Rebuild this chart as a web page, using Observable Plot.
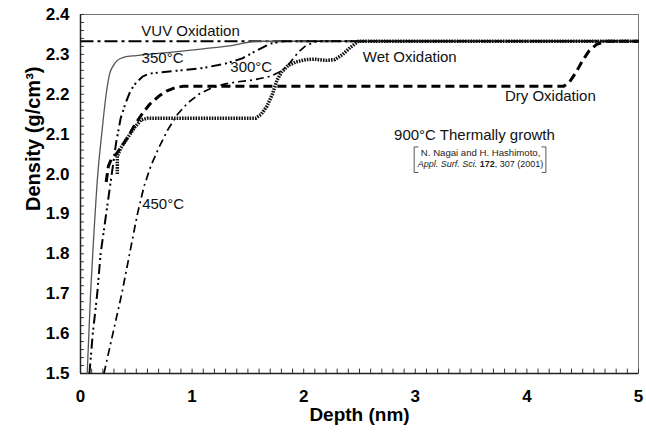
<!DOCTYPE html>
<html><head><meta charset="utf-8">
<script src="https://cdn.jsdelivr.net/npm/d3@7"></script>
<script src="https://cdn.jsdelivr.net/npm/@observablehq/plot@0.6"></script>
<style>body{margin:0;background:#fff} svg{display:block}</style>
</head><body><div id="chart"></div>
<script>
// ---- data (depth nm, density g/cm3) ----
const vuvX = [0, 5];
const vuvY = [2.333, 2.333];

const solidX = [0.06, 0.09, 0.12, 0.155, 0.19, 0.23, 0.26, 0.29, 0.33, 0.39, 0.5, 0.8, 1.1, 1.35, 1.58, 5];
const solidY = [1.5, 1.7, 1.85, 2.0, 2.1, 2.2, 2.25, 2.27, 2.285, 2.293, 2.297, 2.305, 2.314, 2.322, 2.333, 2.333];

const c350X = [0.08, 0.11, 0.15, 0.18, 0.22, 0.25, 0.29, 0.32, 0.36, 0.40, 0.45, 0.50, 0.56, 0.62, 0.75, 0.9, 1.1, 1.3, 1.45, 1.58, 1.7, 1.82, 5];
const c350Y = [1.5, 1.6, 1.7, 1.8, 1.88, 1.94, 2.02, 2.08, 2.14, 2.175, 2.21, 2.23, 2.245, 2.252, 2.256, 2.26, 2.266, 2.277, 2.29, 2.31, 2.327, 2.333, 2.333];

const c450X = [0.21, 0.29, 0.37, 0.44, 0.51, 0.57, 0.63, 0.7, 0.78, 0.87, 0.96, 1.06, 1.16, 1.28, 1.4, 1.55, 1.7, 1.8, 1.88, 1.95, 2.02, 2.12, 5];
const c450Y = [1.5, 1.6, 1.7, 1.8, 1.9, 1.97, 2.02, 2.065, 2.11, 2.15, 2.178, 2.2, 2.214, 2.225, 2.231, 2.236, 2.245, 2.258, 2.28, 2.305, 2.322, 2.333, 2.333];

const dryX = [0.23, 0.25, 0.28, 0.32, 0.37, 0.43, 0.49, 0.55, 0.62, 0.7, 0.77, 0.85, 0.92, 4.33, 4.38, 4.44, 4.5, 4.56, 4.63, 4.72, 5];
const dryY = [1.98, 2.02, 2.04, 2.05, 2.07, 2.095, 2.125, 2.15, 2.175, 2.195, 2.208, 2.217, 2.22, 2.22, 2.23, 2.255, 2.285, 2.31, 2.326, 2.333, 2.333];

const wetX = [0.33, 0.33, 0.36, 0.42, 0.48, 0.54, 0.6, 1.57, 1.62, 1.67, 1.72, 1.76, 1.8, 1.86, 1.93, 2.02, 2.1, 2.2, 2.28, 2.35, 2.42, 2.49, 5];
const wetY = [2.0, 2.045, 2.065, 2.09, 2.115, 2.135, 2.14, 2.14, 2.15, 2.17, 2.2, 2.235, 2.255, 2.272, 2.281, 2.287, 2.288, 2.285, 2.287, 2.3, 2.318, 2.333, 2.333];

// ---- ticks ----
const xTicks = [0, 1, 2, 3, 4, 5];
const yTicks = [1.5, 1.6, 1.7, 1.8, 1.9, 2.0, 2.1, 2.2, 2.3, 2.4];
const xMinor = d3.range(0, 5.001, 0.1);
const yMinor = d3.range(1.5, 2.401, 0.02);

// ---- annotations ----
const annoText = ["VUV Oxidation", "350°C", "300°C", "450°C", "Wet Oxidation", "Dry Oxidation", "900°C Thermally growth"];
const annoX = [0.986, 0.735, 1.53, 0.74, 2.95, 4.21, 3.53];
const annoY = [2.357, 2.29, 2.267, 1.924, 2.292, 2.194, 2.097];
const citeText = ["N. Nagai and H. Hashimoto,", "Appl. Surf. Sci. 172, 307 (2001)"];
const citeX = [3.585, 3.585];
const citeY = [2.054, 2.024];
const bracketL = {x: [3.025, 2.99, 2.99, 3.025], y: [2.068, 2.068, 2.004, 2.004]};
const bracketR = {x: [4.135, 4.17, 4.17, 4.135], y: [2.068, 2.068, 2.004, 2.004]};

const toRows = (xs, ys) => xs.map((x, i) => ({x, y: ys[i]}));
const anno = annoText.map((t, i) => ({t, x: annoX[i], y: annoY[i]}));

const plot = Plot.plot({
  width: 646, height: 437,
  marginLeft: 80, marginRight: 8, marginTop: 14, marginBottom: 64,
  style: {fontFamily: "'Liberation Sans', Arial, sans-serif", background: "#fff", color: "#000"},
  x: {domain: [0, 5]},
  y: {domain: [1.5, 2.4]},
  marks: [
    Plot.frame({stroke: "#777", strokeWidth: 1}),
    Plot.ruleX(xMinor, {y1: 1.5, y2: 1.511, stroke: "#333", strokeWidth: 1}),
    Plot.ruleY(yMinor, {x1: 0, x2: 0.035, stroke: "#333", strokeWidth: 1}),
    Plot.ruleX([0], {stroke: "#222", strokeWidth: 1.5}),
    Plot.ruleY([1.5], {stroke: "#222", strokeWidth: 1.5}),
    Plot.line(toRows(vuvX, vuvY), {x: "x", y: "y", stroke: "#000", strokeWidth: 2.2, strokeDasharray: "13,4,3,4", strokeLinecap: "butt"}),
    Plot.line(toRows(solidX, solidY), {x: "x", y: "y", stroke: "#555", strokeWidth: 1.3, curve: "monotone-x"}),
    Plot.line(toRows(c350X, c350Y), {x: "x", y: "y", stroke: "#000", strokeWidth: 2, strokeDasharray: "10,4,2,3,2,4", strokeLinecap: "butt"}),
    Plot.line(toRows(c450X, c450Y), {x: "x", y: "y", stroke: "#000", strokeWidth: 1.7, strokeDasharray: "8,4,2,4", strokeLinecap: "butt"}),
    Plot.line(toRows(dryX, dryY), {x: "x", y: "y", stroke: "#000", strokeWidth: 3, strokeDasharray: "9,5", strokeLinecap: "butt"}),
    Plot.line(toRows(wetX, wetY), {x: "x", y: "y", stroke: "#111", strokeWidth: 3.5, strokeDasharray: "1.6,1.1", strokeLinecap: "butt"}),
    Plot.text(anno, {x: "x", y: "y", text: "t", fontSize: 15, fill: "#111"}),
    Plot.text([citeText[0]], {x: citeX[0], y: citeY[0], fontSize: 9.6, fill: "#222"}),
    Plot.text([citeText[1]], {x: citeX[1], y: citeY[1], fontSize: 9, fill: "#222"}),
    Plot.line(toRows(bracketL.x, bracketL.y), {x: "x", y: "y", stroke: "#444", strokeWidth: 0.9}),
    Plot.line(toRows(bracketR.x, bracketR.y), {x: "x", y: "y", stroke: "#444", strokeWidth: 0.9}),
    Plot.axisX(xTicks, {tickSize: 0, tickPadding: 16, fontSize: 17, fontWeight: "bold", label: null}),
    Plot.axisY(yTicks, {tickSize: 0, tickPadding: 11, fontSize: 17, fontWeight: "bold", tickFormat: d3.format(".1f"), label: null}),
    Plot.text(["Depth (nm)"], {frameAnchor: "bottom", dy: 47, fontSize: 19, fontWeight: "bold"}),
    Plot.text(["Density (g/cm³)"], {frameAnchor: "left", dx: -47, dy: 17, rotate: -90, fontSize: 20, fontWeight: "bold"})
  ]
});

d3.select(plot).selectAll("text").filter(function () { return this.textContent === citeText[1]; })
  .each(function () {
    const t = d3.select(this);
    t.text(null);
    t.append("tspan").attr("font-style", "italic").text("Appl. Surf. Sci. ");
    t.append("tspan").attr("font-weight", "bold").text("172");
    t.append("tspan").text(", 307 (2001)");
  });

document.getElementById("chart").appendChild(plot);
</script>
</body></html>
